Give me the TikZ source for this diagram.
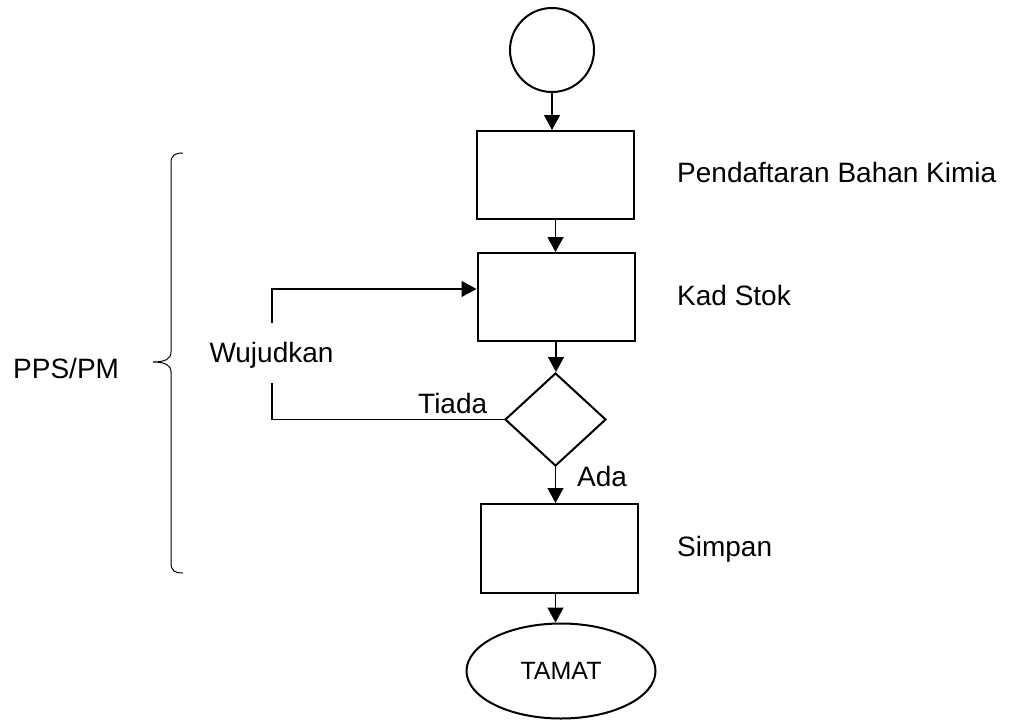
\documentclass[tikz,border=0pt]{standalone}
\usepackage{fontspec}
\setmainfont{Liberation Sans}
\usetikzlibrary{shapes.geometric,arrows.meta}
\begin{document}
\begin{tikzpicture}[x=1pt,y=-1pt,
  box/.style={draw,line width=2pt,minimum width=157pt,minimum height=88pt,inner sep=0pt},
  conn/.style={line width=1.3pt,-{Triangle[length=15pt,width=16pt]}},
  plain/.style={line width=1.3pt},
  lbl/.style={font=\fontsize{28}{32}\selectfont,inner sep=0pt}]
\useasboundingbox (0,0) rectangle (1016,720);
\node[draw,circle,line width=2pt,minimum size=84pt,inner sep=0pt] (start) at (552,50) {};
\node[box] (r1) at (555.5,175) {};
\node[box] (r2) at (556,297) {};
\node[draw,diamond,line width=2pt,minimum width=101pt,minimum height=93pt,inner sep=0pt] (d) at (555.5,419.5) {};
\node[box,minimum height=89pt] (r3) at (559.5,548.5) {};
\node[draw,ellipse,line width=2pt,minimum width=189pt,minimum height=95pt,inner sep=0pt,font=\fontsize{25}{29}\selectfont] (end) at (561,671) {TAMAT};

\node[lbl,anchor=base west] (t1) at (677,182) {Pendaftaran Bahan Kimia};
\node[lbl,anchor=base west] (t2) at (677,305) {Kad Stok};
\node[lbl,anchor=base west] (t3) at (677,556) {Simpan};
\node[lbl,anchor=base west] (pps) at (13,378) {PPS/PM};
\node[lbl,anchor=base west] (tiada) at (418,413) {Tiada};
\node[lbl,anchor=base west] (ada) at (577,486) {Ada};
\node[lbl,anchor=base] (wuj) at (271.5,362) {Wujudkan};

\coordinate (wtop) at (272,323);
\coordinate (wbot) at (272,383);

\draw[conn] (start.south) -- (start.south |- r1.north);
\draw[conn] (r1.south) -- (r1.south |- r2.north);
\draw[conn] (r2.south) -- (r2.south |- d.north);
\draw[conn] (d.south) -- (d.south |- r3.north);
\draw[conn] (r3.south -| d.south) -- (d.south |- end.north);
\draw[plain] (d.west) -| (wbot);
\draw[conn] (wtop) |- ([yshift=8pt]r2.west);

\draw[line width=1pt] (183,153) .. controls (175,153) and (171,155) .. (171,163)
  -- (171,352) .. controls (171,359) and (165,362) .. (153,362)
  .. controls (165,362) and (171,365) .. (171,372)
  -- (171,563) .. controls (171,571) and (175,573) .. (183,573);
\end{tikzpicture}
\end{document}
